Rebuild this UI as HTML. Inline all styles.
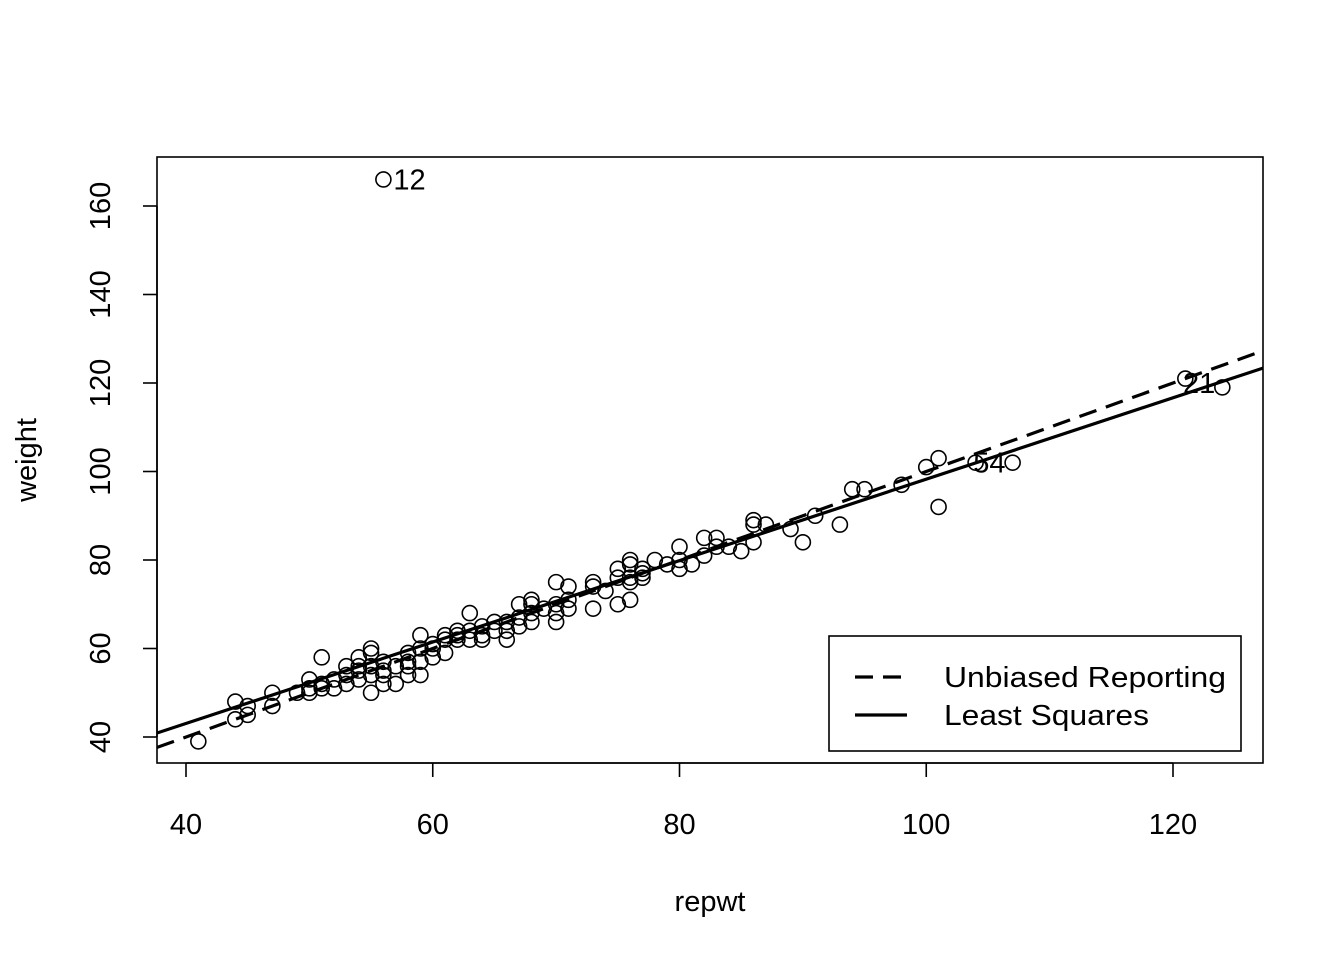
<!DOCTYPE html>
<html><head><meta charset="utf-8"><style>
body{margin:0;background:#fff}
svg text{font-family:"Liberation Sans",Arial,sans-serif;fill:#000}
</style></head><body>
<svg id="chart" width="1344" height="960" viewBox="0 0 1344 960">
<g id="marks"></g>
</svg>
<script>
const repwt=[41,44,44,45,45,47,47,49,50,50,50,51,51,51,52,52,53,53,53,54,54,54,54,55,55,55,55,55,56,56,56,56,57,57,58,58,58,58,59,59,59,59,60,60,60,61,61,61,62,62,62,63,63,63,64,64,64,65,65,66,66,66,67,67,67,68,68,68,68,69,70,70,70,70,71,71,71,73,73,73,74,75,75,75,76,76,76,76,76,77,77,77,78,79,80,80,80,81,82,82,83,83,84,85,86,86,86,87,89,90,91,93,94,95,98,100,101,101,104,107,121,124,56];
const weight=[39,44,48,45,47,47,50,50,50,51,53,51,52,58,51,53,52,54,56,53,55,56,58,50,54,56,59,60,52,54,55,57,52,56,54,56,57,59,54,57,60,63,58,60,61,59,62,63,62,63,64,62,64,68,62,63,65,64,66,62,64,66,65,67,70,66,68,70,71,69,66,68,70,75,69,71,74,69,74,75,73,70,76,78,71,75,76,79,80,76,77,78,80,79,78,80,83,79,81,85,83,85,83,82,84,88,89,88,87,84,90,88,96,96,97,101,92,103,102,102,121,119,166];
const labelIds=["12","54","21"];
const labelX=[56,103,120];
const labelY=[166,102,120];
const xTicks=[40,60,80,100,120];
const yTicks=[40,60,80,100,120,140,160];
const lsIntercept=6.26, lsSlope=0.92;
const ubIntercept=0, ubSlope=1;

const L=157,R=1263,T=157,B=763;
const sx=v=>186+(v-40)*987/80;
const sy=v=>737-(v-40)*531/120;
const xMin=(L-186)*80/987+40, xMax=(R-186)*80/987+40;
const g=document.getElementById('marks');
const NS='http://www.w3.org/2000/svg';
function mk(tag,attrs,parent){const e=document.createElementNS(NS,tag);for(const k in attrs)e.setAttribute(k,attrs[k]);(parent||g).appendChild(e);return e;}

const clip=mk('clipPath',{id:'pc'});mk('rect',{x:L,y:T,width:R-L,height:B-T},clip);

for(let i=0;i<repwt.length;i++){
 const c=mk('circle',{cx:sx(repwt[i]),cy:sy(weight[i]),r:7.5,fill:'none',stroke:'#000','stroke-width':1.6});
 
 
}
function line(a,b,dash,name){
 const l=mk('line',{x1:sx(xMin),y1:sy(a+b*xMin),x2:sx(xMax),y2:sy(a+b*xMax),stroke:'#000','stroke-width':3.2,'clip-path':'url(#pc)'});
 if(dash)l.setAttribute('stroke-dasharray','18,10');
 
 
}
line(ubIntercept,ubSlope,true,'unbiased-line');
line(lsIntercept,lsSlope,false,'least-squares-line');
for(let i=0;i<labelIds.length;i++){
 const t=mk('text',{x:sx(labelX[i])+10,y:sy(labelY[i])+10,'font-size':29});
 t.textContent=labelIds[i];
 
 
}
const box=mk('rect',{x:L,y:T,width:R-L,height:B-T,fill:'none',stroke:'#000','stroke-width':1.6});


mk('line',{x1:sx(40),x2:sx(120),y1:B,y2:B,stroke:'#000','stroke-width':1.6});
for(const v of xTicks){
 mk('line',{x1:sx(v),x2:sx(v),y1:B,y2:B+14,stroke:'#000','stroke-width':1.6});
 const t=mk('text',{x:sx(v),y:834,'font-size':29,'text-anchor':'middle'});t.textContent=v;
 
 
}
mk('line',{x1:L,x2:L,y1:sy(40),y2:sy(160),stroke:'#000','stroke-width':1.6});
for(const v of yTicks){
 mk('line',{x1:L,x2:L-14,y1:sy(v),y2:sy(v),stroke:'#000','stroke-width':1.6});
 const t=mk('text',{x:0,y:0,'font-size':29,'text-anchor':'middle',transform:`translate(110,${sy(v)}) rotate(-90)`});t.textContent=v;
 
 
}
const xt=mk('text',{x:710,y:911,'font-size':29,'text-anchor':'middle'});xt.textContent='repwt';


const yt=mk('text',{x:0,y:0,'font-size':29,'text-anchor':'middle',transform:'translate(36,460) rotate(-90)'});yt.textContent='weight';


const lg=mk('g',{});


mk('rect',{x:829,y:636,width:412,height:115,fill:'#fff',stroke:'#000','stroke-width':1.6},lg);
mk('line',{x1:855,x2:907,y1:677,y2:677,stroke:'#000','stroke-width':3.2,'stroke-dasharray':'18,10'},lg);
mk('line',{x1:855,x2:907,y1:715,y2:715,stroke:'#000','stroke-width':3.2},lg);
const l1=mk('text',{x:944,y:687,'font-size':29,textLength:282,lengthAdjust:'spacingAndGlyphs'},lg);l1.textContent='Unbiased Reporting';


const l2=mk('text',{x:944,y:725,'font-size':29,textLength:205,lengthAdjust:'spacingAndGlyphs'},lg);l2.textContent='Least Squares';


</script>
</body></html>
